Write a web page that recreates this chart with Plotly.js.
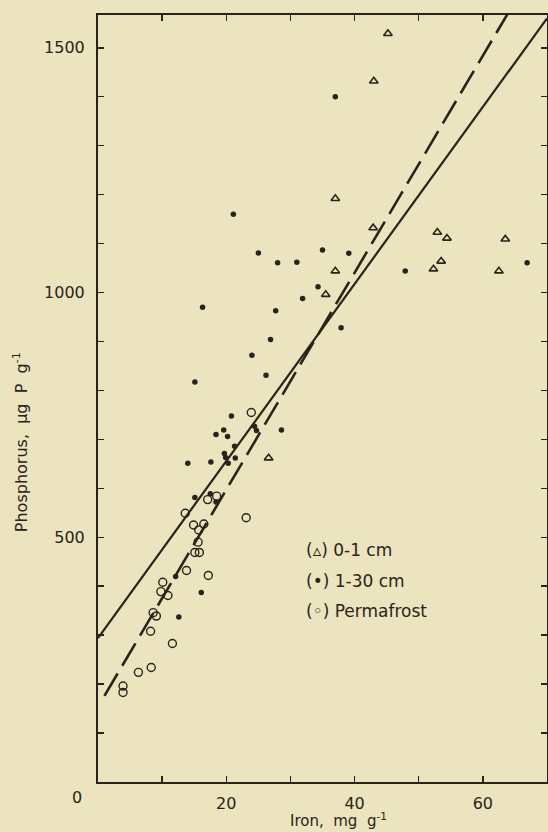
<!DOCTYPE html>
<html>
<head>
<meta charset="utf-8">
<script src="https://cdn.plot.ly/plotly-3.0.1.min.js"></script>
<style>
  html, body { margin: 0; padding: 0; background: #ebe4be; }
  #chart { width: 548px; height: 832px; }
</style>
</head>
<body>
<div id="chart"></div>
<script>
// ---- Data ----
// 0-1 cm (open triangles)
const surfaceIron = [45.2, 43.0, 37.0, 42.9, 52.9, 54.4, 63.5, 53.5, 52.3, 62.5, 37.0, 35.5, 26.6];
const surfacePhos = [1529, 1432, 1192, 1132, 1123, 1111, 1109, 1064, 1048, 1044, 1044, 996, 662];

// 1-30 cm (filled dots)
const deepIron = [37.0, 21.1, 25.0, 28.0, 31.0, 35.0, 39.1, 47.9, 66.9, 34.3, 31.9, 16.3, 27.7, 37.9,
                  26.9, 24.0, 26.2, 15.1, 20.8, 18.4, 19.6, 20.2, 24.4, 24.7, 28.6, 21.3, 14.0, 17.6,
                  19.7, 19.9, 20.3, 21.4, 15.1, 17.5, 18.4, 12.1, 16.1, 12.6];
const deepPhos = [1400, 1160, 1081, 1061, 1062, 1087, 1080, 1044, 1061, 1012, 988, 970, 963, 928,
                  904, 872, 831, 817, 748, 710, 719, 706, 727, 718, 719, 686, 651, 654,
                  671, 663, 651, 662, 581, 589, 572, 420, 387, 337];

// Permafrost (open circles)
const permIron = [23.9, 13.6, 17.1, 18.5, 23.1, 14.9, 16.5, 15.7, 15.6, 15.1, 15.8, 13.8, 17.2, 10.1,
                  9.8, 10.9, 8.6, 9.1, 8.2, 11.6, 6.3, 8.3, 3.9, 3.9];
const permPhos = [755, 549, 577, 584, 540, 525, 527, 515, 490, 469, 469, 432, 422, 408,
                  389, 381, 346, 339, 308, 283, 224, 234, 196, 183];

// Regression lines (end points)
const solidLineIron = [0, 70];
const solidLinePhos = [294, 1560];
const dashLineIron = [1.0, 63.8];
const dashLinePhos = [176, 1568];

// Tick labels
const xTickVals = [20, 40, 60];
const xTickText = ['20', '40', '60'];
const yTickVals = [500, 1000, 1500];
const yTickText = ['500', '1000', '1500'];

const legendLabels = ['(\u25B5) 0-1 cm', '(\u2022) 1-30 cm', '(\u25E6) Permafrost'];

// ---- Styles ----
const ink = '#2a2319';
const bg = '#ebe4be';
const fontFam = 'DejaVu Sans, sans-serif';

const traces = [
  {
    x: solidLineIron, y: solidLinePhos, mode: 'lines', type: 'scatter',
    line: { color: ink, width: 2.2 }, hoverinfo: 'skip', showlegend: false
  },
  {
    x: dashLineIron, y: dashLinePhos, mode: 'lines', type: 'scatter',
    line: { color: ink, width: 2.6, dash: '26px,9px' }, hoverinfo: 'skip', showlegend: false
  },
  {
    x: permIron, y: permPhos, mode: 'markers', type: 'scatter', name: 'Permafrost',
    marker: { symbol: 'circle-open', size: 8, color: ink, line: { color: ink, width: 1.4 } }
  },
  {
    x: deepIron, y: deepPhos, mode: 'markers', type: 'scatter', name: '1-30 cm',
    marker: { symbol: 'circle', size: 5.5, color: ink }
  },
  {
    x: surfaceIron, y: surfacePhos, mode: 'markers', type: 'scatter', name: '0-1 cm',
    marker: { symbol: 'triangle-up-open', size: 7.5, color: ink, line: { color: ink, width: 1.6 } }
  }
];

const legendAnnots = legendLabels.map((t, i) => ({
  text: t, xref: 'paper', yref: 'paper',
  x: (304 - 98) / (547 - 98), xanchor: 'left',
  y: 1 - ([550, 581, 611][i] - 15) / (781.7 - 15), yanchor: 'middle',
  showarrow: false, font: { family: fontFam, size: 17, color: ink }
}));

const tickStyle = { ticks: 'inside', ticklen: 6, tickwidth: 1.5, tickcolor: ink };

const layout = {
  width: 548, height: 832,
  margin: { l: 98, r: 1, t: 15, b: 50.3, pad: 0 },
  paper_bgcolor: bg, plot_bgcolor: bg,
  showlegend: false,
  font: { family: fontFam, size: 16, color: ink },
  xaxis: Object.assign({
    range: [0, 70], tickmode: 'array', tickvals: xTickVals, ticktext: xTickText,
    minor: Object.assign({ tick0: 0, dtick: 10 }, tickStyle),
    showline: true, linecolor: ink, linewidth: 2, mirror: 'ticks',
    showgrid: false, zeroline: false, ticklabelstandoff: 6,
    tickfont: { family: fontFam, size: 16, color: ink }
  }, tickStyle),
  yaxis: Object.assign({
    range: [0, 1567], tickmode: 'array', tickvals: yTickVals, ticktext: yTickText,
    minor: Object.assign({ tick0: 0, dtick: 100 }, tickStyle),
    showline: true, linecolor: ink, linewidth: 2, mirror: 'ticks',
    showgrid: false, zeroline: false, ticklabelstandoff: 8,
    tickfont: { family: fontFam, size: 16, color: ink }
  }, tickStyle),
  annotations: [
    ...legendAnnots,
    {
      text: '0', xref: 'paper', yref: 'paper',
      x: (77 - 98) / (547 - 98), y: -(797 - 781.7) / (781.7 - 15),
      xanchor: 'center', yanchor: 'middle', showarrow: false,
      font: { family: fontFam, size: 16, color: ink }
    },
    {
      text: 'Iron,  mg  g<sup>-1</sup>', xref: 'paper', yref: 'paper',
      x: (338 - 98) / (547 - 98), y: -(820 - 781.7) / (781.7 - 15),
      xanchor: 'center', yanchor: 'middle', showarrow: false,
      font: { family: fontFam, size: 15, color: ink }
    },
    {
      text: 'Phosphorus,  \u03BCg  P  g<sup>-1</sup>', xref: 'paper', yref: 'paper',
      x: -(98 - 20) / (547 - 98), y: 1 - (442 - 15) / (781.7 - 15),
      xanchor: 'center', yanchor: 'middle', textangle: -90, showarrow: false,
      font: { family: fontFam, size: 16, color: ink }
    }
  ]
};

Plotly.newPlot('chart', traces, layout, { displayModeBar: false, staticPlot: true });
</script>
</body>
</html>
